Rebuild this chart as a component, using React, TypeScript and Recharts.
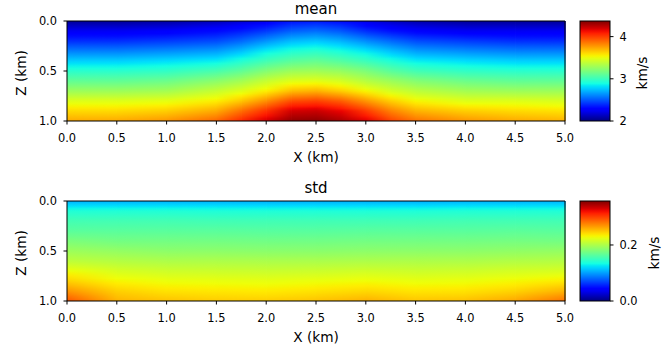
import { ScatterChart, XAxis, YAxis, ReferenceArea } from 'recharts';

// grid positions (km)
const meanXs = [0, 0.5, 1, 1.5, 1.75, 2, 2.25, 2.5, 2.75, 3, 3.25, 3.5, 4, 4.5, 5];
const stdXs = [0, 0.5, 1, 1.5, 2, 2.5, 3, 3.5, 4, 4.5, 5];
const zs = [0, 0.1, 0.2, 0.3, 0.4, 0.5, 0.6, 0.7, 0.8, 0.9, 1];
const xTicks = [0, 0.5, 1, 1.5, 2, 2.5, 3, 3.5, 4, 4.5, 5];
const zTicks = [0, 0.5, 1];

// mean velocity, one row per x column, values from z=0 down to z=1 (km/s)
const meanGrid = [
  [2.05, 2.24, 2.40, 2.59, 2.78, 2.95, 3.11, 3.28, 3.47, 3.61, 3.73],
  [2.05, 2.24, 2.40, 2.59, 2.78, 2.95, 3.11, 3.28, 3.47, 3.61, 3.73],
  [2.07, 2.26, 2.43, 2.62, 2.81, 2.97, 3.14, 3.30, 3.49, 3.64, 3.78],
  [2.12, 2.31, 2.47, 2.66, 2.85, 3.04, 3.23, 3.40, 3.56, 3.73, 3.90],
  [2.17, 2.36, 2.54, 2.74, 2.93, 3.11, 3.30, 3.47, 3.66, 3.88, 4.06],
  [2.24, 2.43, 2.64, 2.85, 3.02, 3.21, 3.40, 3.56, 3.80, 4.04, 4.20],
  [2.33, 2.52, 2.73, 2.92, 3.09, 3.28, 3.47, 3.68, 3.96, 4.20, 4.33],
  [2.35, 2.55, 2.76, 2.95, 3.12, 3.29, 3.48, 3.71, 3.99, 4.22, 4.34],
  [2.31, 2.50, 2.71, 2.90, 3.07, 3.26, 3.44, 3.64, 3.92, 4.15, 4.28],
  [2.21, 2.40, 2.62, 2.83, 3.00, 3.19, 3.35, 3.54, 3.78, 4.01, 4.18],
  [2.14, 2.33, 2.54, 2.74, 2.92, 3.09, 3.28, 3.44, 3.64, 3.83, 3.99],
  [2.09, 2.28, 2.47, 2.66, 2.85, 3.02, 3.21, 3.37, 3.54, 3.71, 3.87],
  [2.05, 2.24, 2.43, 2.62, 2.81, 2.97, 3.14, 3.30, 3.47, 3.64, 3.78],
  [2.05, 2.24, 2.40, 2.59, 2.78, 2.95, 3.11, 3.28, 3.47, 3.61, 3.73],
  [2.05, 2.24, 2.40, 2.59, 2.78, 2.95, 3.11, 3.28, 3.45, 3.59, 3.71],
];

// std, one row per stdXs column
const stdGrid = [
  [0.107, 0.139, 0.154, 0.164, 0.179, 0.193, 0.207, 0.228, 0.246, 0.268, 0.293],
  [0.107, 0.139, 0.154, 0.164, 0.175, 0.189, 0.203, 0.218, 0.232, 0.246, 0.257],
  [0.107, 0.139, 0.154, 0.164, 0.175, 0.186, 0.200, 0.214, 0.227, 0.239, 0.251],
  [0.107, 0.138, 0.153, 0.164, 0.175, 0.186, 0.200, 0.213, 0.226, 0.237, 0.248],
  [0.106, 0.138, 0.153, 0.163, 0.174, 0.185, 0.199, 0.212, 0.225, 0.236, 0.247],
  [0.106, 0.138, 0.153, 0.163, 0.174, 0.185, 0.199, 0.213, 0.227, 0.239, 0.251],
  [0.106, 0.138, 0.153, 0.164, 0.175, 0.186, 0.200, 0.215, 0.229, 0.243, 0.258],
  [0.106, 0.138, 0.153, 0.164, 0.175, 0.186, 0.200, 0.213, 0.226, 0.238, 0.250],
  [0.107, 0.139, 0.154, 0.164, 0.175, 0.186, 0.200, 0.214, 0.227, 0.239, 0.252],
  [0.107, 0.139, 0.154, 0.165, 0.176, 0.188, 0.202, 0.217, 0.231, 0.245, 0.262],
  [0.107, 0.139, 0.154, 0.164, 0.175, 0.189, 0.203, 0.218, 0.236, 0.257, 0.282],
];

const meanRange = [2.0, 4.37];
const stdRange = [0, 0.357];
const meanBarTicks = [2, 3, 4];
const stdBarTicks = [0, 0.2];

const FONT = 'DejaVu Sans, Liberation Sans, sans-serif';
const tickStyle = { fontSize: 11.4, fontFamily: FONT, fill: '#000' };

// matplotlib jet
function lin(t: number, xp: number[], fp: number[]) {
  for (let i = 0; i < xp.length - 1; i++) {
    if (t <= xp[i + 1]) {
      const f = (t - xp[i]) / (xp[i + 1] - xp[i]);
      return fp[i] + f * (fp[i + 1] - fp[i]);
    }
  }
  return fp[fp.length - 1];
}
function jet(t: number) {
  const c = Math.max(0, Math.min(1, t));
  const r = lin(c, [0, 0.35, 0.66, 0.89, 1], [0, 0, 1, 1, 0.5]);
  const g = lin(c, [0, 0.125, 0.375, 0.64, 0.91, 1], [0, 0, 1, 1, 0, 0]);
  const b = lin(c, [0, 0.11, 0.34, 0.65, 1], [0.5, 1, 1, 0, 0]);
  const h = (v: number) => Math.round(v * 255);
  return `rgb(${h(r)},${h(g)},${h(b)})`;
}

function columnStops(col: number[], range: number[]) {
  const out: { off: number; color: string }[] = [];
  const t = (v: number) => (v - range[0]) / (range[1] - range[0]);
  for (let k = 0; k < zs.length - 1; k++) {
    for (let s = 0; s < 4; s++) {
      const f = s / 4;
      out.push({
        off: zs[k] + f * (zs[k + 1] - zs[k]),
        color: jet(t(col[k] + f * (col[k + 1] - col[k]))),
      });
    }
  }
  out.push({ off: 1, color: jet(t(col[col.length - 1])) });
  return out;
}

interface PanelProps {
  id: string;
  xs: number[];
  grid: number[][];
  range: number[];
  top: number;
  barTicks: number[];
  barFmt: (v: number) => string;
}

function Panel({ id, xs, grid, range, top, barTicks, barFmt }: PanelProps) {
  const barStops = Array.from({ length: 41 }, (_, i) => i / 40);
  return (
    <>
      <div style={{ position: 'absolute', left: 0, top }}>
        <ScatterChart width={671} height={180} margin={{ top: 21, right: 106, bottom: 0, left: 0 }}>
          <defs>
            {grid.map((col, i) => (
              <linearGradient key={i} id={`${id}-col-${i}`} x1="0" y1="0" x2="0" y2="1">
                {columnStops(col, range).map((s, j) => (
                  <stop key={j} offset={s.off} stopColor={s.color} />
                ))}
              </linearGradient>
            ))}
            <linearGradient id={`${id}-rampgrad`} x1="0" y1="0" x2="1" y2="0">
              <stop offset={0} stopColor="#000" />
              <stop offset={1} stopColor="#fff" />
            </linearGradient>
            <mask id={`${id}-ramp`} maskContentUnits="objectBoundingBox">
              <rect x={0} y={0} width={1} height={1} fill={`url(#${id}-rampgrad)`} />
            </mask>
          </defs>
          <XAxis
            type="number"
            dataKey="x"
            domain={[0, 5]}
            ticks={xTicks}
            tickFormatter={(v: number) => v.toFixed(1)}
            height={59}
            axisLine={false}
            tickLine={{ stroke: '#000' }}
            tickSize={3.5}
            tickMargin={9}
            tick={tickStyle}
            allowDataOverflow
          />
          <YAxis
            type="number"
            dataKey="z"
            domain={[0, 1]}
            reversed
            ticks={zTicks}
            tickFormatter={(v: number) => v.toFixed(1)}
            width={67}
            axisLine={false}
            tickLine={{ stroke: '#000' }}
            tickSize={3.5}
            tickMargin={6.5}
            tick={tickStyle}
            allowDataOverflow
          />
          {xs.slice(0, -1).map((x0, i) => (
            <ReferenceArea
              key={i}
              x1={x0}
              x2={xs[i + 1]}
              y1={0}
              y2={1}
              ifOverflow="visible"
              shape={(p: any) => (
                <g>
                  <rect x={p.x} y={p.y} width={p.width + 0.6} height={p.height} fill={`url(#${id}-col-${i})`} />
                  <rect
                    x={p.x}
                    y={p.y}
                    width={p.width + 0.6}
                    height={p.height}
                    fill={`url(#${id}-col-${i + 1})`}
                    mask={`url(#${id}-ramp)`}
                  />
                </g>
              )}
            />
          ))}
          <ReferenceArea x1={0} x2={5} y1={0} y2={1} fill="none" stroke="#000" strokeWidth={1} ifOverflow="visible" />
        </ScatterChart>
      </div>
      <div style={{ position: 'absolute', left: 0, top }}>
        <ScatterChart width={671} height={180} margin={{ top: 21, right: 0, bottom: 59, left: 580 }}>
          <defs>
            <linearGradient id={`${id}-bar`} x1="0" y1="1" x2="0" y2="0">
              {barStops.map((t, j) => (
                <stop key={j} offset={t} stopColor={jet(t)} />
              ))}
            </linearGradient>
          </defs>
          <XAxis type="number" dataKey="x" domain={[0, 1]} hide allowDataOverflow />
          <YAxis
            type="number"
            dataKey="v"
            orientation="right"
            domain={range}
            ticks={barTicks}
            tickFormatter={barFmt}
            width={61}
            axisLine={false}
            tickLine={{ stroke: '#000' }}
            tickSize={3.5}
            tickMargin={6}
            tick={tickStyle}
            allowDataOverflow
          />
          <ReferenceArea
            x1={0}
            x2={1}
            y1={range[0]}
            y2={range[1]}
            ifOverflow="visible"
            shape={(p: any) => (
              <rect
                x={p.x}
                y={p.y}
                width={p.width}
                height={p.height}
                fill={`url(#${id}-bar)`}
                stroke="#000"
                strokeWidth={1}
              />
            )}
          />
        </ScatterChart>
      </div>
    </>
  );
}

export default function App() {
  return (
    <div style={{ position: 'absolute', left: 0, top: 0, width: 671, height: 349, background: '#fff' }}>
      <Panel id="mean" xs={meanXs} grid={meanGrid} range={meanRange} top={0} barTicks={meanBarTicks} barFmt={(v) => String(v)} />
      <Panel id="std" xs={stdXs} grid={stdGrid} range={stdRange} top={180} barTicks={stdBarTicks} barFmt={(v) => v.toFixed(1)} />
      <svg width={671} height={349} style={{ position: 'absolute', left: 0, top: 0, pointerEvents: 'none' }}>
        <g fontFamily={FONT} fill="#000">
          <text x={316} y={14} fontSize={15} textAnchor="middle">mean</text>
          <text x={316} y={193} fontSize={15} textAnchor="middle">std</text>
          <text x={316} y={162} fontSize={13.7} textAnchor="middle">X (km)</text>
          <text x={316} y={342} fontSize={13.7} textAnchor="middle">X (km)</text>
          <text transform="translate(26,73) rotate(-90)" fontSize={13.7} textAnchor="middle">Z (km)</text>
          <text transform="translate(26,253) rotate(-90)" fontSize={13.7} textAnchor="middle">Z (km)</text>
          <text transform="translate(646.5,73) rotate(-90)" fontSize={13.7} textAnchor="middle">km/s</text>
          <text transform="translate(659,253) rotate(-90)" fontSize={13.7} textAnchor="middle">km/s</text>
        </g>
      </svg>
    </div>
  );
}
